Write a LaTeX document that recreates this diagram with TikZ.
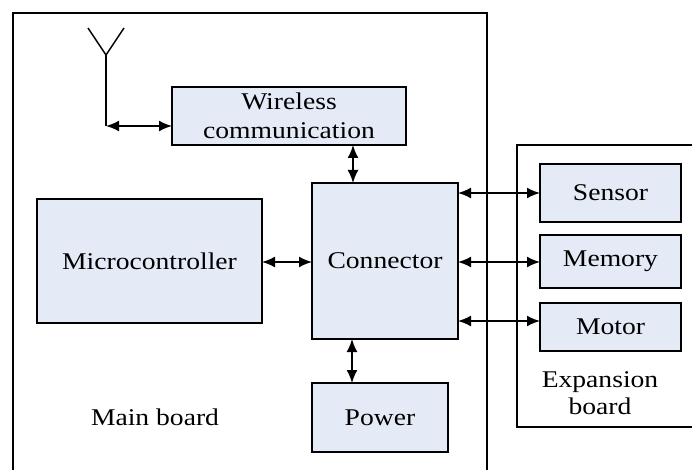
\documentclass[tikz,border=0pt]{standalone}
\usepackage{fontspec}
\setmainfont{Liberation Serif}[FakeStretch=1.15]
\usetikzlibrary{arrows.meta}
\definecolor{boxfill}{HTML}{E4EAF6}
\tikzset{
  blk/.style={draw=black, fill=boxfill, line width=2pt, inner sep=0pt, outer sep=0pt,
    font=\fontsize{24}{29}\selectfont, align=center},
  board/.style={draw=black, line width=2pt},
  link/.style={line width=1.8pt, {Latex[length=13pt,width=11pt]}-{Latex[length=13pt,width=11pt]}},
  lbl/.style={font=\fontsize{24}{27}\selectfont, align=center, inner sep=0pt}
}
\begin{document}
\begin{tikzpicture}[x=1pt,y=-1pt]
\useasboundingbox (0,0) rectangle (692,470);
% boards
\draw[board] (13,470) -- (13,13) -- (487,13) -- (487,470);
\draw[board] (692,145) -- (517,145) -- (517,427) -- (692,427);
% blocks
\node[blk, minimum width=234pt, minimum height=58pt] (wire) at (289,116) {Wireless\\communication};
\node[blk, minimum width=146pt, minimum height=156pt] (conn) at (385,261) {Connector};
\node[blk, minimum width=225pt, minimum height=124pt] (mcu) at (149.5,261) {Microcontroller};
\node[blk, minimum width=136pt, minimum height=69pt] (pow) at (380,417.5) {Power};
\node[blk, minimum width=141pt, minimum height=58pt] (sens) at (610.5,193) {Sensor};
\node[blk, minimum width=141pt, minimum height=53pt] (mem) at (610.5,261.5) {Memory};
\node[blk, minimum width=141pt, minimum height=48pt] (mot) at (610.5,327) {Motor};
% labels
\node[lbl] (mainlbl) at (155,417) {Main board};
\node[lbl] (explbl) at (600,393) {Expansion\\board};
% antenna
\coordinate (ant) at (106,126);
\coordinate (antTop) at (106,55);
\coordinate (antL) at (88,28);
\coordinate (antR) at (124,28);
\draw[line width=2pt] (ant) -- (antTop);
\draw[line width=1.5pt] (antL) -- (antTop) -- (antR);
% connectors
\draw[link] (ant) -- (wire.west |- ant);
\draw[link] (wire.south -| 353,0) -- (conn.north -| 353,0);
\draw[link] (mcu.east |- 0,262) -- (conn.west |- 0,262);
\draw[link] (conn.south -| 352,0) -- (pow.north -| 352,0);
\draw[link] (conn.east |- sens) -- (sens.west);
\draw[link] (conn.east |- 0,262) -- (mem.west |- 0,262);
\draw[link] (conn.east |- 0,321) -- (mot.west |- 0,321);
\end{tikzpicture}
\end{document}
